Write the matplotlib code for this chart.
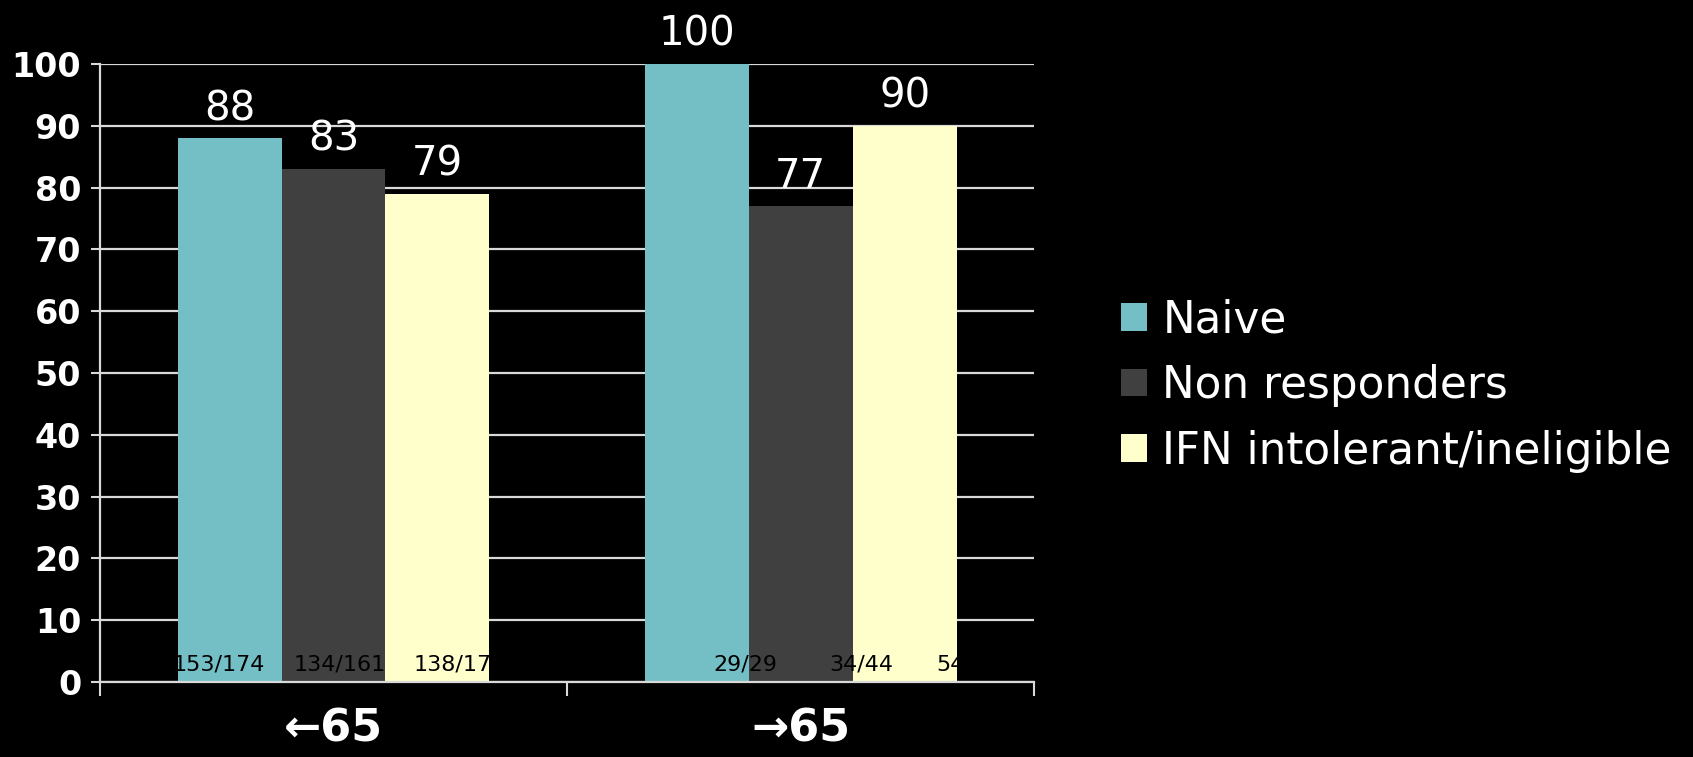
import matplotlib
matplotlib.use("Agg")
import matplotlib.pyplot as plt
from matplotlib import font_manager
import numpy as np

# values
groups = ["\u219065", "\u219265"]
series = ["Naive", "Non responders", "IFN intolerant/ineligible"]
naive = [88, 100]
non_responders = [83, 77]
ifn_intolerant = [79, 90]
counts_naive = ["153/174", "29/29"]
counts_non_resp = ["134/161", "34/44"]
counts_ifn = ["138/174", "54/60"]

colors = ["#74bfc5", "#404040", "#ffffcc"]
line_col = "#d9d9d9"

# a narrow face for the n/N labels if one is installed
names = {f.name for f in font_manager.fontManager.ttflist}
if "Liberation Sans Narrow" in names:
    count_font = dict(family="Liberation Sans Narrow", fontsize=23)
else:
    count_font = dict(family="DejaVu Sans", fontsize=16)

fig = plt.figure(figsize=(16.93, 7.57), dpi=100, facecolor="black")
ax = fig.add_axes([0.059, 0.099, 0.552, 0.8165], facecolor="black")

x = np.arange(len(groups))
w = 1 / 4.5  # excel style gap width 150%
values = [naive, non_responders, ifn_intolerant]
counts = [counts_naive, counts_non_resp, counts_ifn]
# small horizontal nudges of the n/N labels, as in the reference
count_shift = [[-0.024, 0.104], [0.014, 0.13], [0.048, 0.136]]

for i, (vals, col) in enumerate(zip(values, colors)):
    xs = x + (i - 1) * w
    ax.bar(xs, vals, width=w, color=col, label=series[i], zorder=2)
    for j, v in enumerate(vals):
        ax.annotate(str(v), (xs[j], v), xytext=(0, 13), textcoords="offset points",
                    ha="center", va="baseline", color="white", fontsize=29,
                    fontfamily="DejaVu Sans", zorder=4)
        ax.text(xs[j] + count_shift[i][j], 2.8, counts[i][j], ha="center", va="center",
                color="black", zorder=3, **count_font)

ax.set_xlim(-0.5, len(groups) - 0.5)
ax.set_ylim(0, 100)
ax.set_yticks(np.arange(0, 101, 10))
ax.yaxis.grid(True, color=line_col, linewidth=1.6, zorder=0)
ax.set_axisbelow(True)

ax.set_xticks([-0.5, 0.5, 1.5])
ax.set_xticklabels([])
ax.set_xticks(x, minor=True)
ax.set_xticklabels(groups, minor=True)
ax.tick_params(axis="x", which="major", direction="out", length=10, width=1.5, color=line_col)
ax.tick_params(axis="x", which="minor", length=0, pad=18, labelsize=32, labelcolor="white")
for t in ax.get_xticklabels(minor=True):
    t.set_fontweight("bold")
ax.tick_params(axis="y", direction="out", length=6.5, width=1.5, color=line_col,
               labelsize=24, labelcolor="white", pad=7)
for t in ax.get_yticklabels():
    t.set_fontweight("bold")

for s in ["top", "right"]:
    ax.spines[s].set_visible(False)
for s in ["left", "bottom"]:
    ax.spines[s].set_color(line_col)
    ax.spines[s].set_linewidth(1.6)

leg = fig.legend(loc="center left", bbox_to_anchor=(0.662, 0.491), frameon=False,
                 fontsize=31.5, labelcolor="white", handlelength=0.6, handleheight=0.6,
                 handletextpad=0.35, labelspacing=0.52, borderpad=0, borderaxespad=0)

fig.savefig("out.png", dpi=100, facecolor="black")
